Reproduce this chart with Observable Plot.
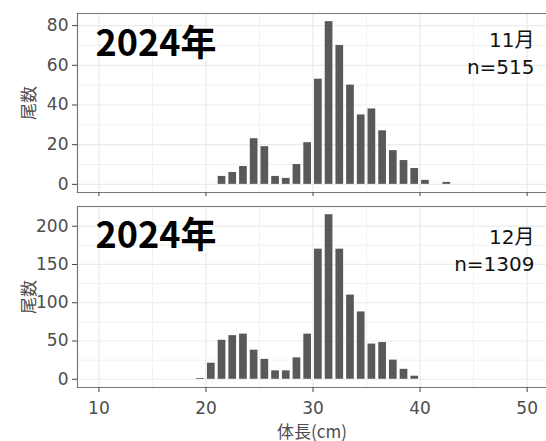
<!DOCTYPE html>
<html>
<head>
<meta charset="utf-8">
<script src="https://cdn.jsdelivr.net/npm/d3@7"></script>
<script src="https://cdn.jsdelivr.net/npm/@observablehq/plot@0.6"></script>
<style>
  html, body { margin: 0; padding: 0; background: #fff; overflow: hidden; }
  #chart { width: 546px; overflow: hidden; }
  #chart svg { display: block; max-width: none !important; }
</style>
</head>
<body>
<div id="chart"></div>
<script>
// Length bins (cm, lower edge of 1-cm bins)
const novBins   = [21, 22, 23, 24, 25, 26, 27, 28, 29, 30, 31, 32, 33, 34, 35, 36, 37, 38, 39, 40, 42];
const novCounts = [ 4,  6,  9, 23, 19,  4,  3, 10, 21, 53, 82, 70, 50, 35, 38, 27, 17, 12,  8,  2,  1];
const decBins   = [19, 20, 21, 22, 23, 24, 25, 26, 27, 28, 29, 30, 31, 32, 33, 34, 35, 36, 37, 38, 39];
const decCounts = [ 1, 21, 51, 57, 59, 38, 26, 11, 11, 28, 59, 170, 215, 170, 110, 88, 46, 48, 25, 13, 4];

const yearLabel = "2024年";
const novLabel = "11月\nn=515";
const decLabel = "12月\nn=1309";
const xTicks = [10, 20, 30, 40, 50];
const xMinor = [15, 25, 35, 45];
const novYTicks = [0, 20, 40, 60, 80];
const novYMinor = [10, 30, 50, 70];
const decYTicks = [0, 50, 100, 150, 200];
const decYMinor = [25, 75, 125, 175, 225];
const yTitle = "尾数";
const xTitle = "体長(cm)";

const nov = novBins.map((b, i) => ({bin: b, count: novCounts[i]}));
const dec = decBins.map((b, i) => ({bin: b, count: decCounts[i]}));

const CJK = "'Noto Sans CJK JP', sans-serif";
const NUM = "'DejaVu Sans', 'Noto Sans CJK JP', sans-serif";
const GRID = "#ebebeb";
const TXT = "#4d4d4d";
const FRAME = "#777";

function panel({data, height, marginTop, marginBottom, yDomain, yTicks, yMinor, label, showX, yearDy, labelDy}) {
  return Plot.plot({
    width: 546,
    height,
    marginLeft: 77,
    marginRight: 0,
    marginTop,
    marginBottom,
    style: {fontFamily: CJK, fontSize: "17px", color: TXT, background: "#fff", maxWidth: "none"},
    x: {domain: [8, 51.81]},
    y: {domain: yDomain},
    marks: [
      Plot.gridX(xMinor, {stroke: GRID, strokeOpacity: 1, strokeWidth: 0.7}),
      Plot.gridX(xTicks, {stroke: GRID, strokeOpacity: 1, strokeWidth: 1.2}),
      Plot.gridY(yMinor, {stroke: GRID, strokeOpacity: 1, strokeWidth: 0.7}),
      Plot.gridY(yTicks, {stroke: GRID, strokeOpacity: 1, strokeWidth: 1.2}),
      Plot.rectY(data, {x1: "bin", x2: d => d.bin + 1, y: "count", fill: "#595959", insetLeft: 1.5, insetRight: 1.5}),
      Plot.frame({anchor: "top", stroke: FRAME, strokeWidth: 1.2}),
      Plot.frame({anchor: "left", stroke: FRAME, strokeWidth: 1.2}),
      Plot.frame({anchor: "bottom", stroke: FRAME, strokeWidth: 1.2}),
      Plot.axisY(yTicks, {tickSize: 5, tickPadding: 4, stroke: "#444", color: TXT, fontSize: 17, fontFamily: NUM,
        label: null}),
      Plot.axisY({label: yTitle, labelAnchor: "center", labelArrow: "none", labelOffset: 55,
        ticks: [], tickSize: 0, color: TXT, fontSize: 17, fontFamily: CJK}),
      showX
        ? Plot.axisX(xTicks, {tickSize: 5, tickPadding: 9, stroke: "#444", color: TXT, fontSize: 17, fontFamily: NUM,
            label: null})
        : Plot.axisX(xTicks, {tickSize: 4, stroke: "#444", tickFormat: () => "", label: null}),
      showX
        ? Plot.axisX({label: xTitle, labelAnchor: "center", labelArrow: "none", labelOffset: 50,
            ticks: [], tickSize: 0, color: TXT, fontSize: 17, fontFamily: CJK})
        : null,
      Plot.text([yearLabel], {frameAnchor: "top-left", text: d => d, dx: 18, dy: yearDy,
        lineAnchor: "top", textAnchor: "start", fontSize: 36, fontWeight: "bold", fill: "#000", fontFamily: CJK}),
      Plot.text([label], {frameAnchor: "top-right", text: d => d, dx: -12, dy: labelDy,
        lineAnchor: "top", textAnchor: "end", fontSize: 20, lineHeight: 1.35, fill: "#111", fontFamily: NUM})
    ]
  });
}

const topPanel = panel({data: nov, height: 198, marginTop: 13, marginBottom: 6,
  yDomain: [-4.1, 86.1], yTicks: novYTicks, yMinor: novYMinor, label: novLabel, showX: false, yearDy: 17, labelDy: 14});
const bottomPanel = panel({data: dec, height: 243, marginTop: 8, marginBottom: 54,
  yDomain: [-10.75, 225.75], yTicks: decYTicks, yMinor: decYMinor, label: decLabel, showX: true, yearDy: 16, labelDy: 18});

const el = document.getElementById("chart");
el.appendChild(topPanel);
el.appendChild(bottomPanel);
</script>
</body>
</html>
